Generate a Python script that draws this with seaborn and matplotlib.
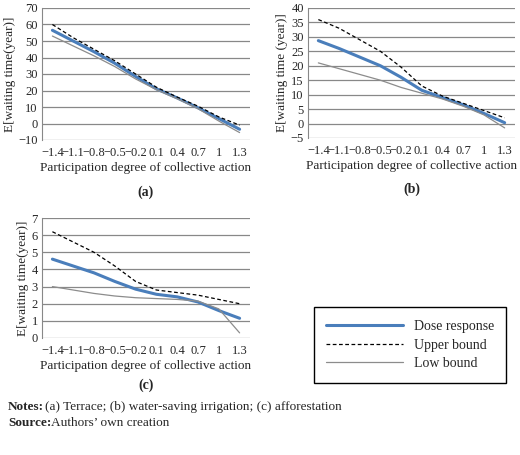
import matplotlib
matplotlib.use("Agg")
import matplotlib.pyplot as plt
import numpy as np
import pandas as pd
import seaborn as sns

x_labels = ["\u22121.4", "\u22121.1", "\u22120.8", "\u22120.5", "\u22120.2", "0.1", "0.4", "0.7", "1", "1.3"]

# (a) terrace
a_dose = [56.5, 50, 43.5, 36.5, 28.5, 21, 15.5, 9.5, 3, -3.5]
a_upper = [60, 52, 45, 38, 30, 22, 16, 10.5, 4, -1]
a_lower = [53, 47, 41, 34.5, 27, 20.5, 15, 9, 1.5, -5.5]
# (b) water-saving irrigation
b_dose = [28.7, 26, 23, 20, 16, 11.5, 9, 6.5, 3.5, 0.3]
b_upper = [36, 33, 29, 25, 19.5, 13, 9.5, 7, 4.5, 2]
b_lower = [21, 19, 17, 15, 12.5, 10.5, 8.5, 6, 3, -1.5]
# (c) afforestation
c_dose = [4.6, 4.2, 3.8, 3.3, 2.85, 2.55, 2.4, 2.1, 1.6, 1.15]
c_upper = [6.2, 5.6, 5.0, 4.2, 3.3, 2.8, 2.65, 2.5, 2.25, 2.0]
c_lower = [3.0, 2.8, 2.6, 2.45, 2.35, 2.3, 2.25, 2.15, 1.7, 0.3]

sns.set_style("white")
plt.rcParams['font.family'] = ['Liberation Serif', 'DejaVu Serif']
plt.rcParams['font.size'] = 9

W, H = 520, 455
fig = plt.figure(figsize=(W / 100, H / 100), dpi=100)


def panel(rect, dose, upper, lower, ylim, step, ylabel, tag):
    l, t, r, b = rect
    ax = fig.add_axes([l / W, 1 - b / H, (r - l) / W, (b - t) / H])
    idx = np.arange(len(x_labels))
    df = pd.DataFrame({"x": idx, "dose": dose, "upper": upper, "lower": lower})
    sns.lineplot(data=df, x="x", y="dose", ax=ax, color="#4a7ebb", lw=2.2, label="Dose response")
    sns.lineplot(data=df, x="x", y="upper", ax=ax, color="black", lw=0.9, ls=(0, (3, 2)), label="Upper bound")
    sns.lineplot(data=df, x="x", y="lower", ax=ax, color="#8c8c8c", lw=0.9, label="Low bound")
    ax.set_xlim(-0.5, len(x_labels) - 0.5)
    ax.set_ylim(*ylim)
    ax.set_yticks(np.arange(ylim[0], ylim[1] + step / 2, step))
    ax.yaxis.grid(True, color="#888888", lw=0.9)
    ax.set_xticks(idx)
    ax.set_xticklabels(x_labels, fontsize=9)
    ax.tick_params(axis="y", labelsize=9, length=0, pad=3)
    ax.tick_params(axis="x", length=0, pad=5)
    for s in ["top", "right"]:
        ax.spines[s].set_visible(False)
    ax.spines["left"].set_color("#888888")
    ax.spines["bottom"].set_visible(False)
    ax.set_xlabel("Participation degree of collective action", fontsize=9.5, labelpad=2)
    ax.set_ylabel(ylabel, fontsize=9.5, labelpad=2)
    ax.text(0.5, -0.42, tag, transform=ax.transAxes, ha="center", fontsize=10, fontweight="bold")
    handles, labels = ax.get_legend_handles_labels()
    ax.get_legend().remove()
    return handles, labels


panel((42, 8, 250, 140), a_dose, a_upper, a_lower, (-10, 70), 10, "E[waiting time(year)]", "(a)")
panel((308, 8, 515, 138), b_dose, b_upper, b_lower, (-5, 40), 5, "E[waiting time (year)]", "(b)")
handles, labels = panel((42, 218, 250, 338), c_dose, c_upper, c_lower, (0, 7), 1, "E[waiting time(year)]", "(c)")

fig.legend(handles, labels, loc="center", bbox_to_anchor=(410 / W, 1 - 345 / H),
           fancybox=False, edgecolor="black", fontsize=10, handlelength=5.5, borderpad=0.9,
           labelspacing=0.4, framealpha=1)

fig.text(8 / W, 1 - 407 / H, "Notes:", fontsize=9.5, fontweight="bold", va="center")
fig.text(45 / W, 1 - 407 / H, "(a) Terrace; (b) water-saving irrigation; (c) afforestation", fontsize=9.5, va="center")
fig.text(8 / W, 1 - 423 / H, "Source:", fontsize=9.5, fontweight="bold", va="center")
fig.text(51 / W, 1 - 423 / H, "Authors\u2019 own creation", fontsize=9.5, va="center")

fig.savefig("out.png", dpi=100)
